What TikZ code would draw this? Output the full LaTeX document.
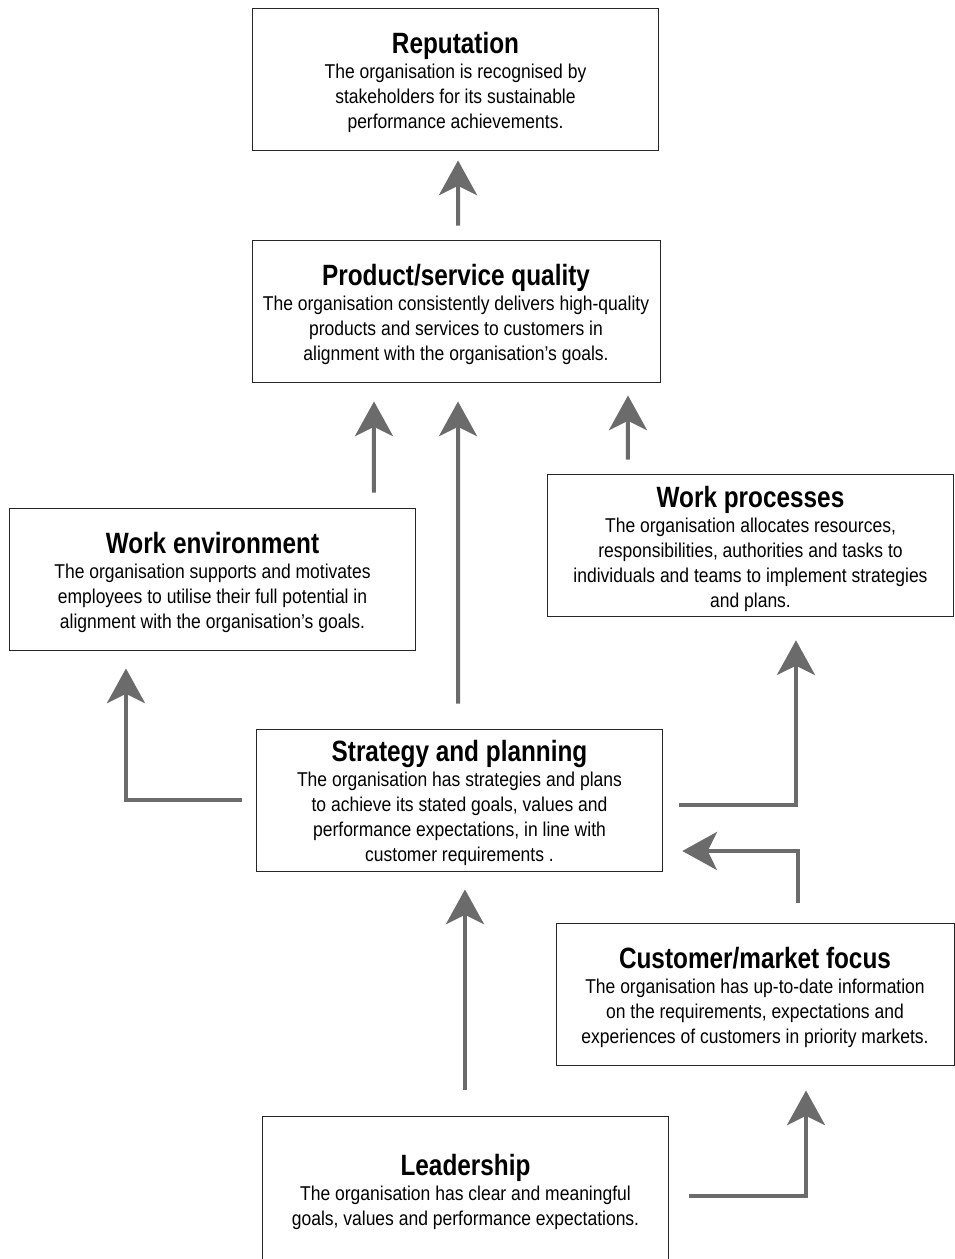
\documentclass[tikz,border=0pt]{standalone}
\usepackage{fontspec}
\setmainfont{Liberation Sans}[FakeStretch=0.875]
\newfontfamily\headfont{Liberation Sans}[FakeStretch=0.83]
\usepackage{xcolor}
\usepackage{tikz}
\usetikzlibrary{positioning,calc,arrows.meta}

\definecolor{arrowgray}{HTML}{6B6B6B}
\newcommand{\boxtitle}[1]{{\headfont\fontsize{22}{22}\selectfont\bfseries\rule{0pt}{20.5pt}#1}\\[0pt]}

\begin{document}
\begin{tikzpicture}[x=0.75pt,y=-0.75pt,
    block/.style={draw=black!85,line width=0.7pt,align=center,inner sep=0pt,
        font=\fontsize{15}{18.75}\selectfont},
    flow/.style={draw=arrowgray,line width=3pt,
        -{Stealth[length=26pt,width=28.5pt,inset=7pt]}}]
    \useasboundingbox (0,0) rectangle (954,1259);
    % boxes
    \node[block,minimum width=305pt,minimum height=106.5pt] (rep) at (455.5,79)
        {\boxtitle{Reputation}The organisation is recognised by\\stakeholders for its sustainable\\performance achievements.};
    \node[block,minimum width=306pt,minimum height=106.5pt] (prod) at (456,311)
        {\boxtitle{Product/service quality}The organisation consistently delivers high-quality\\products and services to customers in\\alignment with the organisation’s goals.};
    \node[block,minimum width=305pt,minimum height=106.5pt] (wenv) at (212.5,579)
        {\boxtitle{Work environment}The organisation supports and motivates\\employees to utilise their full potential in\\alignment with the organisation’s goals.};
    \node[block,minimum width=305pt,minimum height=107pt] (wproc) at (750.5,545.5)
        {\boxtitle{Work processes}The organisation allocates resources,\\responsibilities, authorities and tasks to\\individuals and teams to implement strategies\\and plans.};
    \node[block,minimum width=305pt,minimum height=106.5pt] (strat) at (459.5,800)
        {\boxtitle{Strategy and planning}The organisation has strategies and plans\\to achieve its stated goals, values and\\performance expectations, in line with\\customer requirements .};
    \node[block,minimum width=298.5pt,minimum height=106.5pt] (cust) at (755,994)
        {\boxtitle{Customer/market focus}The organisation has up-to-date information\\on the requirements, expectations and\\experiences of customers in priority markets.};
    \node[block,minimum width=305pt,minimum height=108pt] (lead) at (465.5,1188.5)
        {\boxtitle{Leadership}The organisation has clear and meaningful\\goals, values and performance expectations.};
    % arrows
    \draw[flow] ([xshift=1.5pt,yshift=10.5pt]prod.north) -- ([xshift=1.9pt,yshift=-7.5pt]rep.south);
    \draw[flow] ([xshift=121.1pt,yshift=11.25pt]wenv.north) -- ([xshift=-61.5pt,yshift=-14.25pt]prod.south);
    \draw[flow] ([xshift=-1.1pt,yshift=18.75pt]strat.north) -- ([xshift=1.5pt,yshift=-14.25pt]prod.south);
    \draw[flow] ([xshift=-91.9pt,yshift=10.5pt]wproc.north) -- ([xshift=129pt,yshift=-9.75pt]prod.south);
    \draw[flow] ([xshift=-10.5pt]strat.west) -| ([xshift=-64.9pt,yshift=-13.5pt]wenv.south);
    \draw[flow] ([xshift=12pt,yshift=-3.75pt]strat.east) -| ([xshift=34.1pt,yshift=-17.25pt]wproc.south);
    \draw[flow] ([xshift=32.25pt,yshift=15pt]cust.north) |- ([xshift=14.25pt,yshift=-38.25pt]strat.east);
    \draw[flow] ([xshift=-0.4pt,yshift=19.9pt]lead.north) -- ([xshift=4.1pt,yshift=-13.5pt]strat.south);
    \draw[flow] ([xshift=15pt,yshift=-5.6pt]lead.east) -| ([xshift=38.25pt,yshift=-18.75pt]cust.south);
\end{tikzpicture}
\end{document}
